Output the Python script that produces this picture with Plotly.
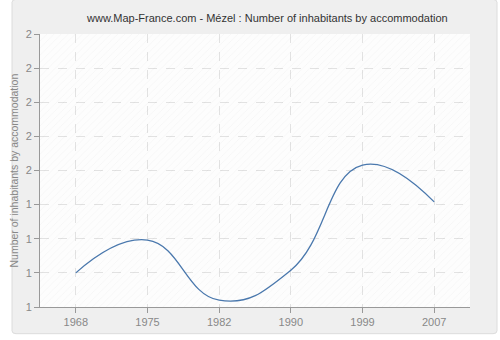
import plotly.graph_objects as go

years = ["1968", "1975", "1982", "1990", "1999", "2007"]
values = [1.125, 1.245, 1.025, 1.135, 1.52, 1.385]
tick_vals = [1.0, 1.125, 1.25, 1.375, 1.5, 1.625, 1.75, 1.875, 2.0]
tick_text = ["1", "1", "1", "1", "2", "2", "2", "2", "2"]

title = "www.Map-France.com - Mézel : Number of inhabitants by accommodation"
ylabel = "Number of inhabitants by accommodation"

idx = list(range(len(years)))
x_lo, x_hi = -0.5, len(years) - 0.5
y_lo, y_hi = tick_vals[0], tick_vals[-1]

FONT = "Liberation Sans, Arial, sans-serif"

fig = go.Figure()

# hatched background of the plot area (decoration)
fig.add_trace(go.Bar(
    x=[(x_lo + x_hi) / 2], y=[y_hi - y_lo], base=[y_lo], width=x_hi - x_lo,
    marker=dict(color="rgba(0,0,0,0)", line=dict(width=0),
                pattern=dict(shape="/", fgcolor="rgba(0,0,0,0.07)",
                             bgcolor="rgba(0,0,0,0)", size=5, solidity=0.12)),
    hoverinfo="skip", showlegend=False,
))

fig.add_trace(go.Scatter(
    x=idx, y=values, mode="lines",
    line=dict(color="#4a78ad", width=1.3, shape="spline", smoothing=1.3),
    showlegend=False,
))

axis_common = dict(
    showline=True, linecolor="#999999", linewidth=1,
    ticks="outside", ticklen=5, tickcolor="#999999",
    showgrid=True, gridcolor="#e2e2e2", griddash="dash", gridwidth=1,
    zeroline=False, tickfont=dict(family=FONT, size=11, color="#888888"),
)

fig.update_layout(
    width=500, height=340,
    margin=dict(l=40, r=30, t=34, b=30),
    paper_bgcolor="white",
    plot_bgcolor="#fdfdfd",
    font=dict(family=FONT, size=11, color="#888888"),
    xaxis=dict(range=[x_lo, x_hi], tickvals=idx, ticktext=years, **axis_common),
    yaxis=dict(range=[y_lo, y_hi], tickvals=tick_vals, ticktext=tick_text, **axis_common),
    shapes=[
        dict(
            type="path", xref="paper", yref="paper", layer="below",
            path="M -0.0651,1.1159 L -0.0651,-0.0870 Q -0.0651,-0.0978 -0.0558,-0.0978 L 1.0535,-0.0978 Q 1.0628,-0.0978 1.0628,-0.0870 L 1.0628,1.1159 Q 1.0628,1.1268 1.0535,1.1268 L -0.0558,1.1268 Q -0.0651,1.1268 -0.0651,1.1159 Z",
            fillcolor="#efefef", line=dict(color="#dcdcdc", width=1),
        ),
        dict(
            type="rect", xref="paper", yref="paper", layer="below",
            x0=0, x1=1, y0=0, y1=1, fillcolor="#fdfdfd", line=dict(width=0),
        ),
    ],
    annotations=[
        dict(text=title, xref="paper", yref="paper", x=0.528, y=1.0,
             yshift=16, xanchor="center", yanchor="middle", showarrow=False,
             font=dict(family=FONT, size=11, color="#333333")),
        dict(text=ylabel, xref="paper", yref="paper", x=0, xshift=-27, y=0.5,
             textangle=-90, xanchor="center", yanchor="middle", showarrow=False,
             font=dict(family=FONT, size=10.5, color="#888888")),
    ],
)

fig.write_html("out.html")
